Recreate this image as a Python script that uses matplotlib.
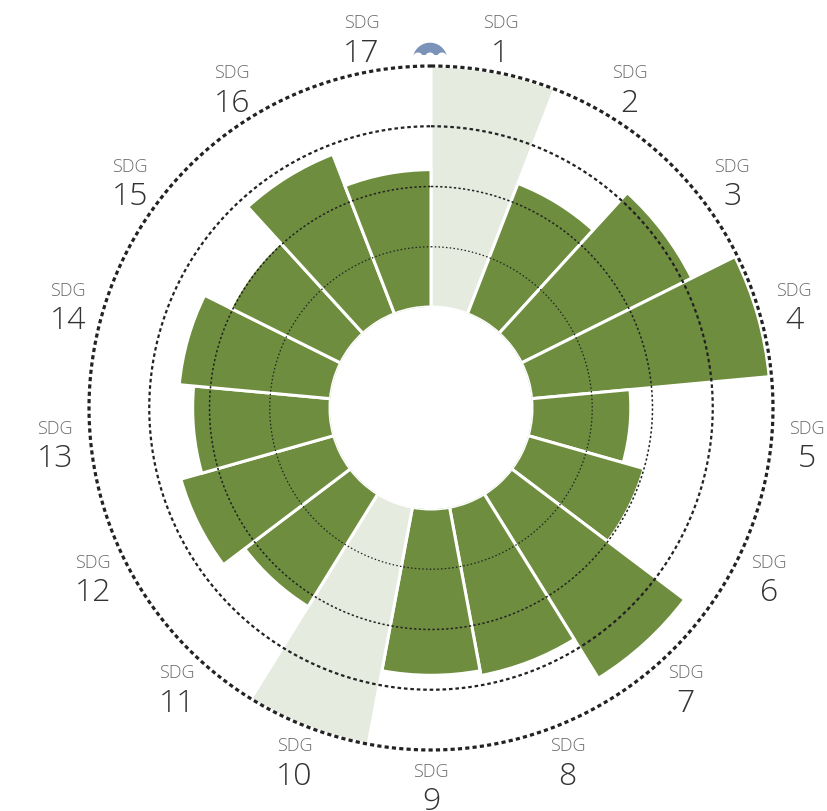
import numpy as np
import matplotlib
matplotlib.use("Agg")
import matplotlib.pyplot as plt
from matplotlib.patches import Polygon, Circle

# ---------------- data ----------------
sdg_numbers = ["1", "2", "3", "4", "5", "6", "7", "8", "9",
               "10", "11", "12", "13", "14", "15", "16", "17"]
scores = [100, 58, 79, 99, 41, 50, 90, 71, 69, 100, 55, 66, 57, 63, 51, 71, 57]
highlighted = [True, False, False, False, False, False, False, False, False,
               True, False, False, False, False, False, False, False]
grid_levels = [25, 50, 75, 100]

# ---------------- style ----------------
GREEN = "#6e8d3e"
LIGHT = "#e5ebdf"
BLUE = "#7b93b9"
DOT = "#222222"

W, H = 828, 812
fig = plt.figure(figsize=(W / 100, H / 100), dpi=100)
fig.patch.set_facecolor("white")

cx, cy = 431, 409          # centre in pixels (from top-left)
R = 342                     # radius of outer circle in pixels
origin = 41.9               # hole offset in data units

ax = fig.add_axes([(cx - R) / W, (H - cy - R) / H, 2 * R / W, 2 * R / H],
                  projection="polar")
ax.set_theta_zero_location("N")
ax.set_theta_direction(-1)
ax.set_ylim(0, 100)
ax.set_rorigin(-origin)
ax.set_axis_off()

n = len(scores)
width = 2 * np.pi / n
theta = np.arange(n) * width + width / 2
colors = [LIGHT if h else GREEN for h in highlighted]

ax.bar(theta, scores, width=width, bottom=0, color=colors,
       edgecolor="white", linewidth=2.2, zorder=2)

# dotted reference circles
t = np.linspace(0, 2 * np.pi, 1441)
styles = [
    (0.9, (0, (1.2, 1.8))),
    (1.1, (0, (1.5, 1.5))),
    (1.6, (0, (1.6, 1.3))),
    (2.3, (0, (1.3, 1.0))),
]
for lvl, (lw, ls) in zip(grid_levels, styles):
    ax.plot(t, np.full_like(t, lvl), color=DOT, lw=lw, linestyle=ls,
            zorder=3, clip_on=False)

# labels
px_per_unit = R / (100 + origin)
r_label = 377.5 / px_per_unit - origin
for th, num in zip(theta, sdg_numbers):
    ax.annotate("SDG", xy=(th, r_label), xytext=(0, 7), textcoords="offset points",
                ha="center", va="baseline", fontsize=13, color="#6a6a6a",
                family=["Open Sans", "DejaVu Sans"], fontweight="light",
                annotation_clip=False)
    ax.annotate(num, xy=(th, r_label), xytext=(0, -17), textcoords="offset points",
                ha="center", va="baseline", fontsize=23, color="#333333",
                family=["Open Sans", "DejaVu Sans"], fontweight="light",
                annotation_clip=False)

# small blue dome icon at the top
ov = fig.add_axes([0, 0, 1, 1])
ov.set_xlim(0, W)
ov.set_ylim(H, 0)
ov.set_axis_off()
ov.patch.set_alpha(0)
icx, icy, ir, cut = 430, 61, 17.3, 56
a0 = np.arcsin((icy - cut) / ir)
aa = np.linspace(a0, np.pi - a0, 80)
pts = np.column_stack([icx + ir * np.cos(aa), icy - ir * np.sin(aa)])
ov.add_patch(Polygon(pts, closed=True, facecolor=BLUE, edgecolor="none"))
for bx in (418, 430, 442):
    ov.add_patch(Circle((bx, 58.5), 5, facecolor="white", edgecolor="none"))

fig.savefig("out.png", dpi=100, facecolor="white")
